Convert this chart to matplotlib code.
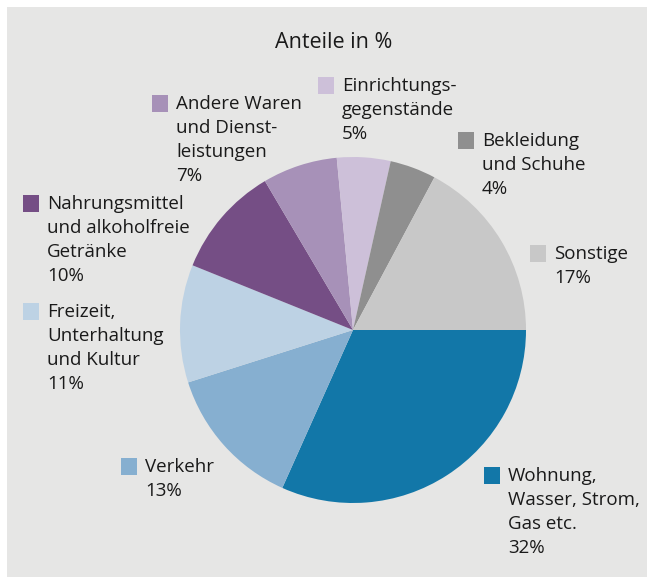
import matplotlib.pyplot as plt
from matplotlib.patches import Rectangle

# Daten
labels = ['Wohnung,\nWasser, Strom,\nGas etc.', 'Verkehr', 'Freizeit,\nUnterhaltung\nund Kultur',
          'Nahrungsmittel\nund alkoholfreie\nGetränke', 'Andere Waren\nund Dienst-\nleistungen',
          'Einrichtungs-\ngegenstände', 'Bekleidung\nund Schuhe', 'Sonstige']
percent = [32, 13, 11, 10, 7, 5, 4, 17]                       # angezeigte Werte
shares = [31.7, 13.4, 11.0, 10.4, 7.0, 5.0, 4.3, 17.2]        # aus Segmentwinkeln geschätzt
colors = ['#1277a8', '#86afd0', '#bdd2e4', '#754e85', '#a791b8', '#cdc0d9', '#8f8f8f', '#c8c8c8']

# Position der Beschriftungen (Pixel: Kästchen links, Oberkante Kästchen)
label_pos = [(484, 467), (121, 458), (23, 303), (23, 195), (152, 95), (318, 77), (458, 132), (530, 245)]

W, H = 647, 577
fig = plt.figure(figsize=(W / 100, H / 100), dpi=100)
fig.patch.set_facecolor('white')
fig.patches.append(Rectangle((7 / W, 0), 1, 1 - 7 / H, transform=fig.transFigure,
                             facecolor='#e6e6e5', edgecolor='none', zorder=-5))

cx, cy, r = 353, 330, 173
ax = fig.add_axes([(cx - r) / W, (H - cy - r) / H, 2 * r / W, 2 * r / H])
ax.pie(shares, colors=colors, startangle=0, counterclock=False,
       wedgeprops=dict(linewidth=0))
ax.set_xlim(-1, 1)
ax.set_ylim(-1, 1)
ax.set_aspect('equal')
ax.axis('off')

font = 'Open Sans'
fig.text(334 / W, 1 - 43 / H, 'Anteile in %', ha='center', va='center',
         fontsize=15.5, family=font, color='#1a1a1a')

for lab, v, c, (x, y) in zip(labels, percent, colors, label_pos):
    fig.patches.append(Rectangle((x / W, 1 - (y + 17) / H), 16 / W, 17 / H,
                                 transform=fig.transFigure, facecolor=c,
                                 edgecolor='none', zorder=2))
    fig.text((x + 24) / W, 1 - y / H, '{}\n{}%'.format(lab, v), ha='left', va='top',
             fontsize=13.5, family=font, color='#1a1a1a', linespacing=1.43)

plt.savefig('out.png', dpi=100)
